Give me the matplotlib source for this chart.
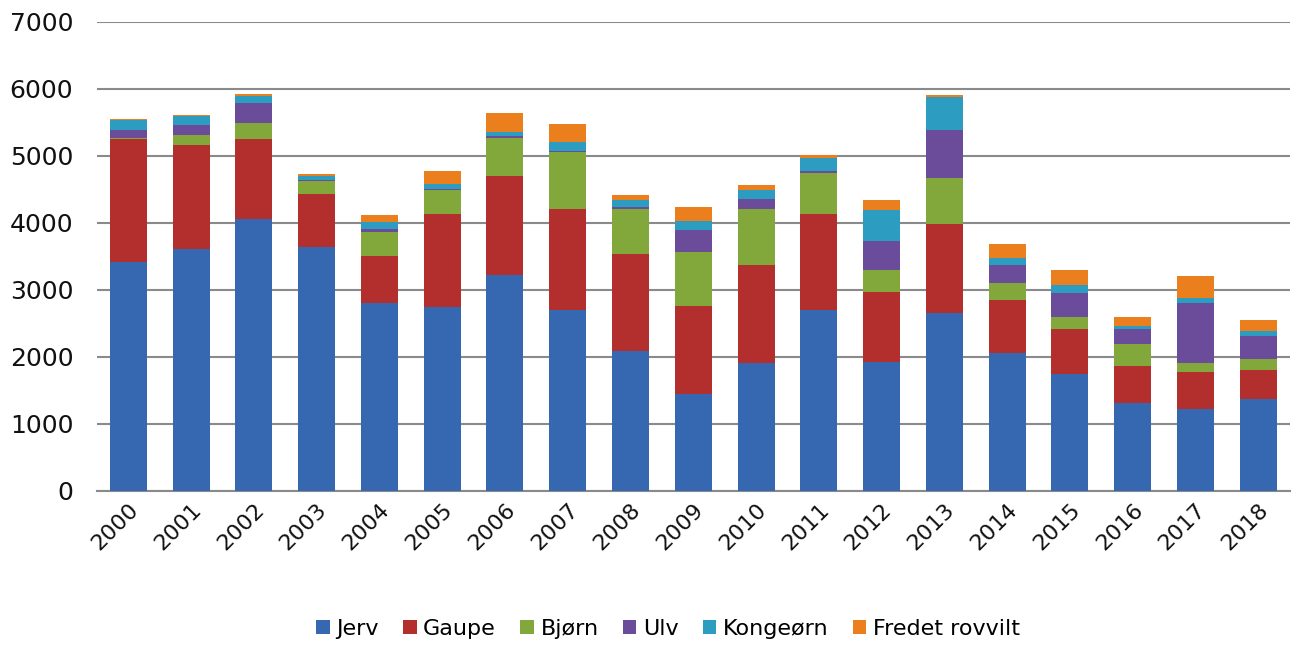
import matplotlib
matplotlib.use("Agg")
import matplotlib.pyplot as plt
import numpy as np

years = [str(y) for y in range(2000, 2019)]
series_names = ["Jerv", "Gaupe", "Bjørn", "Ulv", "Kongeørn", "Fredet rovvilt"]

jerv     = [3420, 3614, 4064, 3636, 2808, 2748, 3229, 2708, 2087, 1451, 1903, 2708, 1928, 2659, 2052, 1750, 1320, 1220, 1380]
gaupe    = [1832, 1551, 1188,  796,  694, 1386, 1466, 1505, 1451, 1306, 1465, 1426, 1048, 1326,  798,  672,  546,  550,  421]
bjorn    = [  18,  149,  247,  188,  364,  352,  572,  839,  675,  805,  845,  611,  328,  685,  250,  177,  330,  133,  174]
ulv      = [ 120,  149,  289,   25,   45,   24,   34,   25,   25,  328,  149,   25,  422,  720,  279,  363,  214,  909,  335]
kongeorn = [ 148,  126,  109,   49,  104,   76,   55,  124,   99,  134,  134,  198,  462,  488,   99,  118,   49,   75,   75]
fredet   = [  17,   21,   30,   41,   98,  183,  292,  274,   74,  214,   64,   50,  149,   27,  209,  224,  140,  328,  174]

colors = ["#3568B0", "#B32F2E", "#82A83C", "#6A4C9A", "#2C9CC0", "#EB7F1E"]

data = [jerv, gaupe, bjorn, ulv, kongeorn, fredet]

fig = plt.figure(figsize=(13, 6.45), dpi=100)
ax = fig.add_axes([0.0746, 0.2388, 0.9174, 0.7272])

x = np.arange(len(years))
bottom = np.zeros(len(years))
handles = []
for name, vals, c in zip(series_names, data, colors):
    b = ax.bar(x, vals, width=0.59, bottom=bottom, color=c, label=name, zorder=3, linewidth=0)
    handles.append(b)
    bottom += np.array(vals)

ax.set_xlim(-0.5, 18.5)
ax.set_ylim(0, 7000)
ax.set_yticks(range(0, 7001, 1000))
ax.set_yticklabels([str(v) for v in range(0, 7001, 1000)], fontsize=18, color="#111111")
ax.yaxis.grid(True, color="#8a8a8a", linewidth=1.5, zorder=0)
ax.tick_params(axis="y", length=0, pad=17)
ax.tick_params(axis="x", length=0, pad=6)
ax.set_xticks(x)
ax.set_xticklabels(years, rotation=45, ha="right", rotation_mode="anchor",
                   fontsize=16, color="#111111")
for s in ["left", "right", "top"]:
    ax.spines[s].set_visible(False)
ax.spines["bottom"].set_color("#8a8a8a")
ax.spines["bottom"].set_linewidth(1.5)

leg = fig.legend(handles=handles, labels=series_names, loc="center",
                 bbox_to_anchor=(0.514, 0.025), ncol=6, frameon=False,
                 handlelength=0.6, handleheight=0.6, handletextpad=0.3,
                 columnspacing=1.1,
                 prop={"family": "DejaVu Sans", "size": 16})

fig.savefig("out.png", dpi=100)
